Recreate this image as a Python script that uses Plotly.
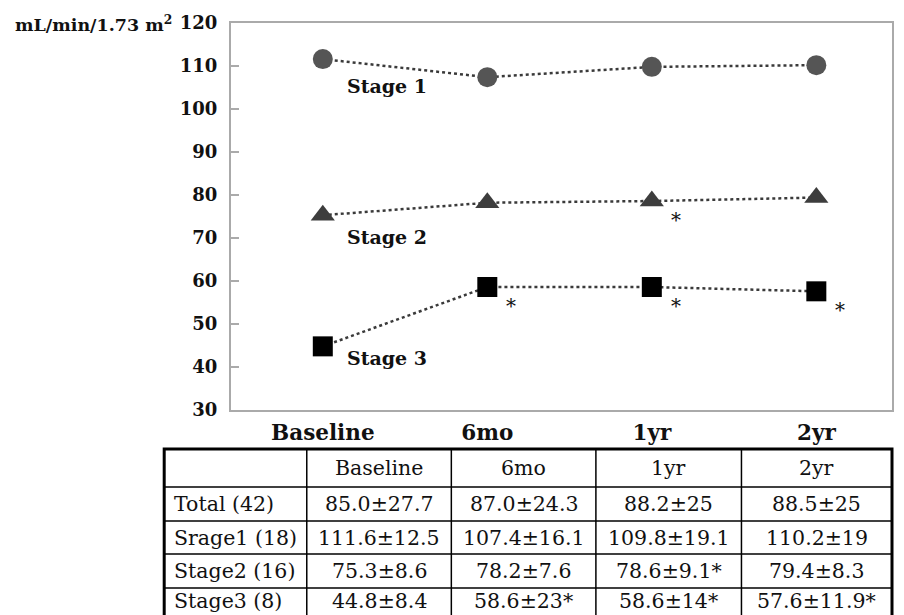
import plotly.graph_objects as go

# ---------------- data ----------------
timepoints = ["Baseline", "6mo", "1yr", "2yr"]
stage1 = [111.6, 107.4, 109.8, 110.2]
stage2 = [75.3, 78.2, 78.6, 79.4]
stage3 = [44.8, 58.6, 58.6, 57.6]
stage2_sig = [False, False, True, False]
stage3_sig = [False, True, True, True]
series_names = ["Stage 1", "Stage 2", "Stage 3"]
y_ticks = [30, 40, 50, 60, 70, 80, 90, 100, 110, 120]
y_title = "mL/min/1.73 m<sup>2</sup>"

table_header = ["", "Baseline", "6mo", "1yr", "2yr"]
table_row_labels = ["Total (42)", "Srage1 (18)", "Stage2 (16)", "Stage3 (8)"]
row_total = ["85.0±27.7", "87.0±24.3", "88.2±25", "88.5±25"]
row_stage1 = ["111.6±12.5", "107.4±16.1", "109.8±19.1", "110.2±19"]
row_stage2 = ["75.3±8.6", "78.2±7.6", "78.6±9.1*", "79.4±8.3"]
row_stage3 = ["44.8±8.4", "58.6±23*", "58.6±14*", "57.6±11.9*"]

# ---------------- layout geometry ----------------
# page has an 8px body margin; figure occupies page px 8..896 x 8..615
OFF = 8
W, H = 888, 607
L, R, T, B = 223, 2, 15, 205
PW = W - L - R
PH = H - T - B


def px(x_page):
    return (x_page - OFF - L) / PW


def py(y_page):
    return (H - B - (y_page - OFF)) / PH


FONT = "DejaVu Serif"
xs = list(range(len(timepoints)))

fig = go.Figure()
line_style = dict(color="#3a3a3a", width=2.5, dash="dot")
fig.add_trace(go.Scatter(x=xs, y=stage1, mode="lines+markers", name=series_names[0],
                         line=line_style,
                         marker=dict(symbol="circle", size=20, color="#555555")))
fig.add_trace(go.Scatter(x=xs, y=stage2, mode="lines+markers", name=series_names[1],
                         line=line_style,
                         marker=dict(symbol="triangle-up", size=21, color="#3d3d3d")))
fig.add_trace(go.Scatter(x=xs, y=stage3, mode="lines+markers", name=series_names[2],
                         line=line_style,
                         marker=dict(symbol="square", size=20, color="#000000")))

annotations = []
# series labels
label_shift = [-27, -22, -12]
for name, vals, ys in zip(series_names, [stage1, stage2, stage3], label_shift):
    annotations.append(dict(x=xs[0], y=vals[0], xref="x", yref="y", text=f"<b>{name}</b>",
                            showarrow=False, xanchor="left", yanchor="middle",
                            xshift=22, yshift=ys,
                            font=dict(family=FONT, size=19, color="#111111")))
# significance asterisks
for vals, sig in [(stage2, stage2_sig), (stage3, stage3_sig)]:
    for x, v, s in zip(xs, vals, sig):
        if s:
            annotations.append(dict(x=x, y=v, xref="x", yref="y", text="*", showarrow=False,
                                    xanchor="center", yanchor="middle", xshift=24, yshift=-19,
                                    font=dict(family=FONT, size=20, color="#111111")))
# y-axis title
annotations.append(dict(x=px(174), y=py(23), xref="paper", yref="paper", text=f"<b>{y_title}</b>",
                        showarrow=False, xanchor="right", yanchor="middle",
                        font=dict(family=FONT, size=17.5, color="#111111")))

# ---------------- table ----------------
col_edges = [164, 307, 452, 597, 743, 894]
row_edges = [449, 487, 521, 554, 588, 622]
shapes = []
for x in col_edges[1:-1]:
    shapes.append(dict(type="line", xref="paper", yref="paper", x0=px(x), x1=px(x),
                       y0=py(row_edges[0]), y1=py(row_edges[-1]), line=dict(color="#000", width=1.5)))
for y in row_edges[1:-1]:
    shapes.append(dict(type="line", xref="paper", yref="paper", x0=px(col_edges[0]), x1=px(col_edges[-1]),
                       y0=py(y), y1=py(y), line=dict(color="#000", width=1.5)))
shapes.append(dict(type="rect", xref="paper", yref="paper", x0=px(col_edges[0]), x1=px(col_edges[-1]),
                   y0=py(row_edges[0]), y1=py(row_edges[-1]), line=dict(color="#000", width=3)))

table_rows = [table_header] + [[lbl] + vals for lbl, vals in
                               zip(table_row_labels, [row_total, row_stage1, row_stage2, row_stage3])]
for ri, row in enumerate(table_rows):
    yc = min((row_edges[ri] + row_edges[ri + 1]) / 2, 601)
    for ci, txt in enumerate(row):
        if not txt:
            continue
        if ci == 0:
            xa, xp = "left", col_edges[0] + 8
        else:
            xa, xp = "center", (col_edges[ci] + col_edges[ci + 1]) / 2
        annotations.append(dict(x=px(xp), y=py(yc), xref="paper", yref="paper", text=txt,
                                showarrow=False, xanchor=xa, yanchor="middle",
                                font=dict(family=FONT, size=20.5, color="#111111")))

fig.update_layout(
    width=W, height=H,
    margin=dict(l=L, r=R, t=T, b=B, pad=0),
    paper_bgcolor="white", plot_bgcolor="white",
    showlegend=False,
    annotations=annotations,
    shapes=shapes,
    xaxis=dict(range=[-0.558, 3.46], tickmode="array", tickvals=xs, ticktext=[f"<b>{t}</b>" for t in timepoints],
               showgrid=False, zeroline=False, showline=True, mirror=True, linecolor="#aaaaaa", linewidth=2,
               ticks="", ticklabelstandoff=2,
               tickfont=dict(family=FONT, size=21.5, color="#111111")),
    yaxis=dict(range=[30, 120], tickmode="array", tickvals=y_ticks, ticktext=[f"<b>{v}</b>" for v in y_ticks],
               showgrid=False, zeroline=False, showline=True, mirror=True, linecolor="#aaaaaa", linewidth=2,
               ticks="inside", ticklen=8, tickwidth=1.5, tickcolor="#aaaaaa", ticklabelstandoff=8,
               tickfont=dict(family=FONT, size=18, color="#111111")),
)

fig.write_html("out.html")
